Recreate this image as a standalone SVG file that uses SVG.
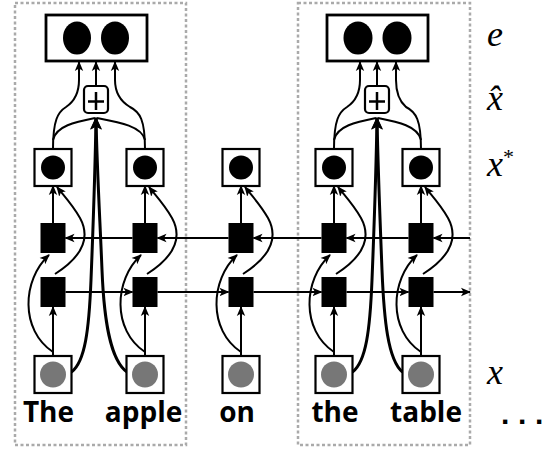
<svg xmlns="http://www.w3.org/2000/svg" width="555" height="453" viewBox="0 0 555 453">
<defs>
<marker id="ah" viewBox="0 0 10 10" refX="9" refY="5" markerWidth="10" markerHeight="10" markerUnits="userSpaceOnUse" orient="auto">
<path d="M0,0.8 L10,5 L0,9.2 L2.5,5 z" fill="#000"/>
</marker>
<marker id="ahb" viewBox="0 0 10 10" refX="9" refY="5" markerWidth="13" markerHeight="13" markerUnits="userSpaceOnUse" orient="auto">
<path d="M0,0.5 L10,5 L0,9.5 L2.5,5 z" fill="#000"/>
</marker>
</defs>
<style>
.grp{fill:none;stroke:#aaa;stroke-width:2.5;stroke-dasharray:3 2.5}
.box{fill:#fff;stroke:#000;stroke-width:2.2}
.top{fill:#fff;stroke:#000;stroke-width:2.8}
.sq{fill:#000}
.in{fill:#777}
.c{fill:none;stroke:#000;stroke-width:2;marker-end:url(#ah)}
.cn{fill:none;stroke:#000;stroke-width:2}
.thick{fill:none;stroke:#000;stroke-width:3}
.word{font-family:"Open Sans","Liberation Sans",sans-serif;font-weight:bold;font-size:28px;text-anchor:middle;fill:#000}
</style>

<g id="groups">
<rect class="grp" x="15" y="3" width="171" height="442"/>
<rect class="grp" x="298" y="3" width="172" height="442"/>
</g>

<g id="connectors">
<path class="c" d="M65.5,292 H132.5"/>
<path class="c" d="M157.5,292 H228.5"/>
<path class="c" d="M253.5,292 H321.5"/>
<path class="c" d="M346.5,292 H408.5"/>
<path class="c" d="M433.5,292 H470"/>
<path class="c" d="M470,238 H433.5"/>
<path class="c" d="M408.5,238 H346.5"/>
<path class="c" d="M321.5,238 H253.5"/>
<path class="c" d="M228.5,238 H157.5"/>
<path class="c" d="M132.5,238 H65.5"/>
<path class="c" d="M53,356 V307"/>
<path class="c" d="M53,223 V186"/>
<path class="c" d="M53,352 C20,330 22,280 49,255"/>
<path class="c" d="M55,274 C80,258 92,240 80,218 C72,204 64,196 57,187"/>
<path class="c" d="M145,356 V307"/>
<path class="c" d="M145,223 V186"/>
<path class="c" d="M145,352 C112,330 114,280 141,255"/>
<path class="c" d="M147,274 C172,258 184,240 172,218 C164,204 156,196 149,187"/>
<path class="c" d="M241,356 V307"/>
<path class="c" d="M241,223 V186"/>
<path class="c" d="M241,352 C208,330 210,280 237,255"/>
<path class="c" d="M243,274 C268,258 280,240 268,218 C260,204 252,196 245,187"/>
<path class="c" d="M334,356 V307"/>
<path class="c" d="M334,223 V186"/>
<path class="c" d="M334,352 C301,330 303,280 330,255"/>
<path class="c" d="M336,274 C361,258 373,240 361,218 C353,204 345,196 338,187"/>
<path class="c" d="M421,356 V307"/>
<path class="c" d="M421,223 V186"/>
<path class="c" d="M421,352 C388,330 390,280 417,255"/>
<path class="c" d="M423,274 C448,258 460,240 448,218 C440,204 432,196 425,187"/>
<path class="thick" d="M71.5,372 C85,362 89,330 91,280 C93,230 95,180 96,118" marker-end="url(#ahb)"/>
<path class="thick" d="M127,372 C110,360 104,320 102,270 C100,220 97,170 96,118" marker-end="url(#ahb)"/>
<path class="c" d="M53,149 C53,120 58,112 66,107 C75,101 79,93 79,80 L79,62"/>
<path class="cn" d="M53,140 C56,126 75,122 95,118"/>
<path class="c" d="M145,149 C145,120 140,112 130,107 C120,101 115,93 115,80 L115,62"/>
<path class="cn" d="M145,140 C142,126 118,122 97,118"/>
<path class="c" d="M96,86 V62"/>
<path class="thick" d="M352.5,372 C366,362 370,330 372,280 C374,230 376,180 377,118" marker-end="url(#ahb)"/>
<path class="thick" d="M402.5,372 C388,360 384,320 382,270 C380,220 378,170 377,118" marker-end="url(#ahb)"/>
<path class="c" d="M334,149 C334,120 339,112 347,107 C356,101 360,93 360,80 L360,62"/>
<path class="cn" d="M334,140 C337,126 356,122 376,118"/>
<path class="c" d="M421,149 C421,120 416,112 406,107 C399,101 396,93 396,80 L396,62"/>
<path class="cn" d="M421,140 C418,126 398,122 378,118"/>
<path class="c" d="M377,86 V62"/>
</g>

<g id="e1">
<rect class="top" x="46" y="15" width="101" height="46"/>
<ellipse cx="77" cy="38" rx="14" ry="16.5"/>
<ellipse cx="115" cy="38" rx="14" ry="16.5"/>
</g>
<g id="e2">
<rect class="top" x="327" y="15" width="101" height="46"/>
<ellipse cx="358" cy="38" rx="14.5" ry="16.5"/>
<ellipse cx="397" cy="38" rx="14.5" ry="16.5"/>
</g>
<g id="plus1">
<rect class="box" x="84" y="86" width="24" height="27" rx="4"/>
<path d="M88,101.5 H104 M96,92 V110" stroke="#000" stroke-width="2.5"/>
</g>
<g id="plus2">
<rect class="box" x="365" y="86" width="24" height="27" rx="4"/>
<path d="M369,101.5 H385 M377,92 V110" stroke="#000" stroke-width="2.5"/>
</g>

<g id="xs1"><rect class="box" x="34.5" y="149" width="37" height="37"/><circle cx="53" cy="167.5" r="12"/></g>
<g id="xs2"><rect class="box" x="126.5" y="149" width="37" height="37"/><circle cx="145" cy="167.5" r="12"/></g>
<g id="xs3"><rect class="box" x="222.5" y="149" width="37" height="37"/><circle cx="241" cy="167.5" r="12"/></g>
<g id="xs4"><rect class="box" x="315.5" y="149" width="37" height="37"/><circle cx="334" cy="167.5" r="12"/></g>
<g id="xs5"><rect class="box" x="402.5" y="149" width="37" height="37"/><circle cx="421" cy="167.5" r="12"/></g>

<g id="hb1"><rect class="sq" x="40.5" y="223" width="25" height="30"/></g>
<g id="hb2"><rect class="sq" x="132.5" y="223" width="25" height="30"/></g>
<g id="hb3"><rect class="sq" x="228.5" y="223" width="25" height="30"/></g>
<g id="hb4"><rect class="sq" x="321.5" y="223" width="25" height="30"/></g>
<g id="hb5"><rect class="sq" x="408.5" y="223" width="25" height="30"/></g>

<g id="hf1"><rect class="sq" x="40.5" y="277" width="25" height="30"/></g>
<g id="hf2"><rect class="sq" x="132.5" y="277" width="25" height="30"/></g>
<g id="hf3"><rect class="sq" x="228.5" y="277" width="25" height="30"/></g>
<g id="hf4"><rect class="sq" x="321.5" y="277" width="25" height="30"/></g>
<g id="hf5"><rect class="sq" x="408.5" y="277" width="25" height="30"/></g>

<g id="x1"><rect class="box" x="34.5" y="356" width="37" height="37"/><circle class="in" cx="53" cy="374.5" r="13"/></g>
<g id="x2"><rect class="box" x="126.5" y="356" width="37" height="37"/><circle class="in" cx="145" cy="374.5" r="13"/></g>
<g id="x3"><rect class="box" x="222.5" y="356" width="37" height="37"/><circle class="in" cx="241" cy="374.5" r="13"/></g>
<g id="x4"><rect class="box" x="315.5" y="356" width="37" height="37"/><circle class="in" cx="334" cy="374.5" r="13"/></g>
<g id="x5"><rect class="box" x="402.5" y="356" width="37" height="37"/><circle class="in" cx="421" cy="374.5" r="13"/></g>

<g id="words">
<text class="word" x="48.5" y="422">The</text>
<text class="word" x="143.5" y="422">apple</text>
<text class="word" x="237" y="422">on</text>
<text class="word" x="335" y="422">the</text>
<text class="word" x="426" y="422">table</text>
<text x="501 518 535" y="424" font-family="Liberation Sans, sans-serif" font-weight="bold" font-size="30">...</text>
</g>

<g id="labels" font-family="Liberation Serif, DejaVu Serif, serif" font-style="italic" font-size="36" fill="#000">
<text x="487" y="46">e</text>
<text x="487" y="110">x̂</text>
<text x="487" y="176">x<tspan dy="-12" font-size="22" font-style="normal">*</tspan></text>
<text x="487" y="384">x</text>
</g>
</svg>
